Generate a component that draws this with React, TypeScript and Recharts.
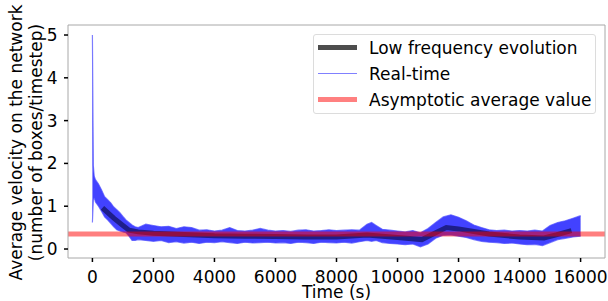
import React from 'react';
import { ComposedChart, Line, Area, XAxis, YAxis, ReferenceLine } from 'recharts';

// Real-time signal envelope (min / max of the dense noisy trace)
const RT_TIME = [0, 30, 60, 100, 200, 300, 400, 500, 600, 700, 800, 900, 1000, 1100, 1200, 1300, 1400, 1500,
  1750, 2000, 2250, 2500, 2750, 3000, 3250, 3500, 3750, 4000, 4250, 4500, 4750, 5000, 5250, 5500, 5750, 6000,
  6250, 6500, 6750, 7000, 7250, 7500, 7750, 8000, 8250, 8500, 8750, 9000, 9150, 9300, 9500, 9750, 10000,
  10250, 10500, 10750, 11000, 11250, 11500, 11750, 12000, 12250, 12500, 12750, 13000, 13250, 13500, 13750,
  14000, 14250, 14500, 14750, 15000, 15250, 15500, 15750, 16000];
const RT_LOW = [0.62, 1.15, 1.2, 1.1, 1.0, 0.88, 0.75, 0.68, 0.6, 0.52, 0.45, 0.42, 0.4, 0.38, 0.3, 0.2, 0.2, 0.22,
  0.2, 0.18, 0.2, 0.15, 0.17, 0.14, 0.16, 0.13, 0.16, 0.15, 0.17, 0.15, 0.13, 0.16, 0.14, 0.15, 0.16, 0.14,
  0.15, 0.13, 0.16, 0.15, 0.13, 0.16, 0.15, 0.14, 0.16, 0.14, 0.17, 0.2, 0.18, 0.2, 0.15, 0.13, 0.12,
  0.1, 0.12, 0.05, 0.12, 0.25, 0.32, 0.33, 0.3, 0.27, 0.22, 0.18, 0.16, 0.15, 0.13, 0.14,
  0.12, 0.1, 0.11, 0.08, 0.15, 0.22, 0.25, 0.28, 0.3];
const RT_HIGH = [5.0, 1.95, 1.7, 1.62, 1.52, 1.38, 1.22, 1.15, 1.08, 0.98, 0.92, 0.85, 0.76, 0.68, 0.62, 0.56, 0.52, 0.5,
  0.58, 0.55, 0.52, 0.53, 0.48, 0.52, 0.5, 0.44, 0.45, 0.42, 0.44, 0.5, 0.43, 0.42, 0.44, 0.48, 0.44, 0.42,
  0.43, 0.41, 0.44, 0.45, 0.42, 0.43, 0.45, 0.43, 0.44, 0.45, 0.44, 0.58, 0.62, 0.55, 0.46, 0.44, 0.42,
  0.4, 0.43, 0.38, 0.48, 0.62, 0.75, 0.8, 0.74, 0.66, 0.56, 0.5, 0.45, 0.43, 0.44, 0.42,
  0.43, 0.42, 0.44, 0.42, 0.55, 0.62, 0.66, 0.72, 0.78];

// Low frequency evolution
const LF_TIME = [330, 700, 1000, 1200, 1500, 2000, 3000, 4000, 5000, 6000, 7000, 8000, 9000, 9500, 10000,
  10800, 11200, 11600, 12000, 12500, 13000, 14000, 14800, 15200, 15700];
const LF_VALUE = [0.96, 0.72, 0.55, 0.44, 0.4, 0.37, 0.34, 0.31, 0.3, 0.29, 0.28, 0.28, 0.33, 0.3, 0.27,
  0.22, 0.36, 0.5, 0.47, 0.41, 0.35, 0.28, 0.26, 0.33, 0.43];

const ASYMPTOTE = 0.35;
const X_TICKS = [0, 2000, 4000, 6000, 8000, 10000, 12000, 14000, 16000];
const Y_TICKS = [0, 1, 2, 3, 4, 5];
const X_DOMAIN: [number, number] = [-800, 16800];
const Y_DOMAIN: [number, number] = [-0.21, 5.234];

const LEGEND_ITEMS = [
  { label: 'Low frequency evolution', color: '#4d4d4d', width: 5 },
  { label: 'Real-time', color: '#8080ff', width: 1.2 },
  { label: 'Asymptotic average value', color: '#ff8080', width: 5 },
];

const rtData = RT_TIME.map((t, i) => ({ t, range: [RT_LOW[i], RT_HIGH[i]] }));
const lfData = LF_TIME.map((t, i) => ({ t, v: LF_VALUE[i] }));

const FONT = 'DejaVu Sans';
const FS = 17;
const SPINE = '#a8a8a8';

const YLabel = (props: any) => {
  const vb = props.viewBox || { x: 0, y: 25, width: 68, height: 232 };
  const cy = vb.y + vb.height / 2 + 1;
  return (
    <g fontFamily={FONT} fontSize={FS} fill="#000">
      <text x={22} y={cy} textAnchor="middle" transform={`rotate(-90, 22, ${cy})`}>Average velocity on the network</text>
      <text x={41.5} y={cy} textAnchor="middle" transform={`rotate(-90, 41.5, ${cy})`}>(number of boxes/timestep)</text>
    </g>
  );
};

const XLabel = (props: any) => {
  const vb = props.viewBox || { x: 68, y: 258, width: 537, height: 43 };
  return (
    <text x={vb.x + vb.width / 2} y={298} textAnchor="middle" fontFamily={FONT} fontSize={FS} fill="#000">Time (s)</text>
  );
};

export default function App() {
  return (
    <div style={{ position: 'absolute', left: 0, top: 0, width: 608, height: 301, background: '#fff' }}>
      <ComposedChart width={608} height={301} margin={{ top: 25, right: 3, bottom: 0, left: 0 }}>
        <XAxis
          dataKey="t"
          type="number"
          domain={X_DOMAIN}
          ticks={X_TICKS}
          allowDataOverflow
          height={43}
          tickSize={4}
          tickMargin={8.5}
          axisLine={{ stroke: SPINE, strokeWidth: 1 }}
          tickLine={{ stroke: '#000', strokeWidth: 1.5 }}
          tick={{ fill: '#000', fontSize: FS, fontFamily: FONT }}
          label={{ content: XLabel }}
        />
        <YAxis
          type="number"
          domain={Y_DOMAIN}
          ticks={Y_TICKS}
          allowDataOverflow
          width={68}
          tickSize={4}
          tickMargin={6.5}
          axisLine={{ stroke: SPINE, strokeWidth: 1 }}
          tickLine={{ stroke: '#000', strokeWidth: 1.5 }}
          tick={{ fill: '#000', fontSize: FS, fontFamily: FONT }}
          label={{ content: YLabel }}
        />
        <Area
          data={rtData}
          dataKey="range"
          type="linear"
          stroke="#4a4aff"
          strokeOpacity={0.7}
          strokeWidth={1.2}
          fill="#0000ff"
          fillOpacity={0.74}
          isAnimationActive={false}
          dot={false}
          activeDot={false}
        />
        <Line
          data={lfData}
          dataKey="v"
          type="linear"
          stroke="#1e1e8a"
          strokeWidth={5}
          dot={false}
          activeDot={false}
          isAnimationActive={false}
        />
        <ReferenceLine y={ASYMPTOTE} stroke="#ff0000" strokeOpacity={0.5} strokeWidth={5} />
        <ReferenceLine y={Y_DOMAIN[1]} stroke={SPINE} strokeWidth={1} />
        <ReferenceLine x={X_DOMAIN[1]} stroke={SPINE} strokeWidth={1} />
      </ComposedChart>
      <div
        style={{
          position: 'absolute',
          left: 313,
          top: 34,
          width: 283,
          height: 80,
          boxSizing: 'border-box',
          border: '1px solid #dcdcdc',
          borderRadius: 3,
          background: 'rgba(255,255,255,0.8)',
          fontFamily: FONT,
          fontSize: FS,
          color: '#000',
        }}
      >
        {LEGEND_ITEMS.map((it, i) => (
          <div key={it.label} style={{ position: 'absolute', left: 0, top: 12.7 + i * 26 - 10, height: 20, width: 283 }}>
            <div
              style={{
                position: 'absolute',
                left: 4,
                top: 10 - it.width / 2,
                width: 39,
                height: it.width,
                background: it.color,
              }}
            />
            <span style={{ position: 'absolute', left: 55, top: 0, lineHeight: '20px', whiteSpace: 'nowrap' }}>{it.label}</span>
          </div>
        ))}
      </div>
    </div>
  );
}
